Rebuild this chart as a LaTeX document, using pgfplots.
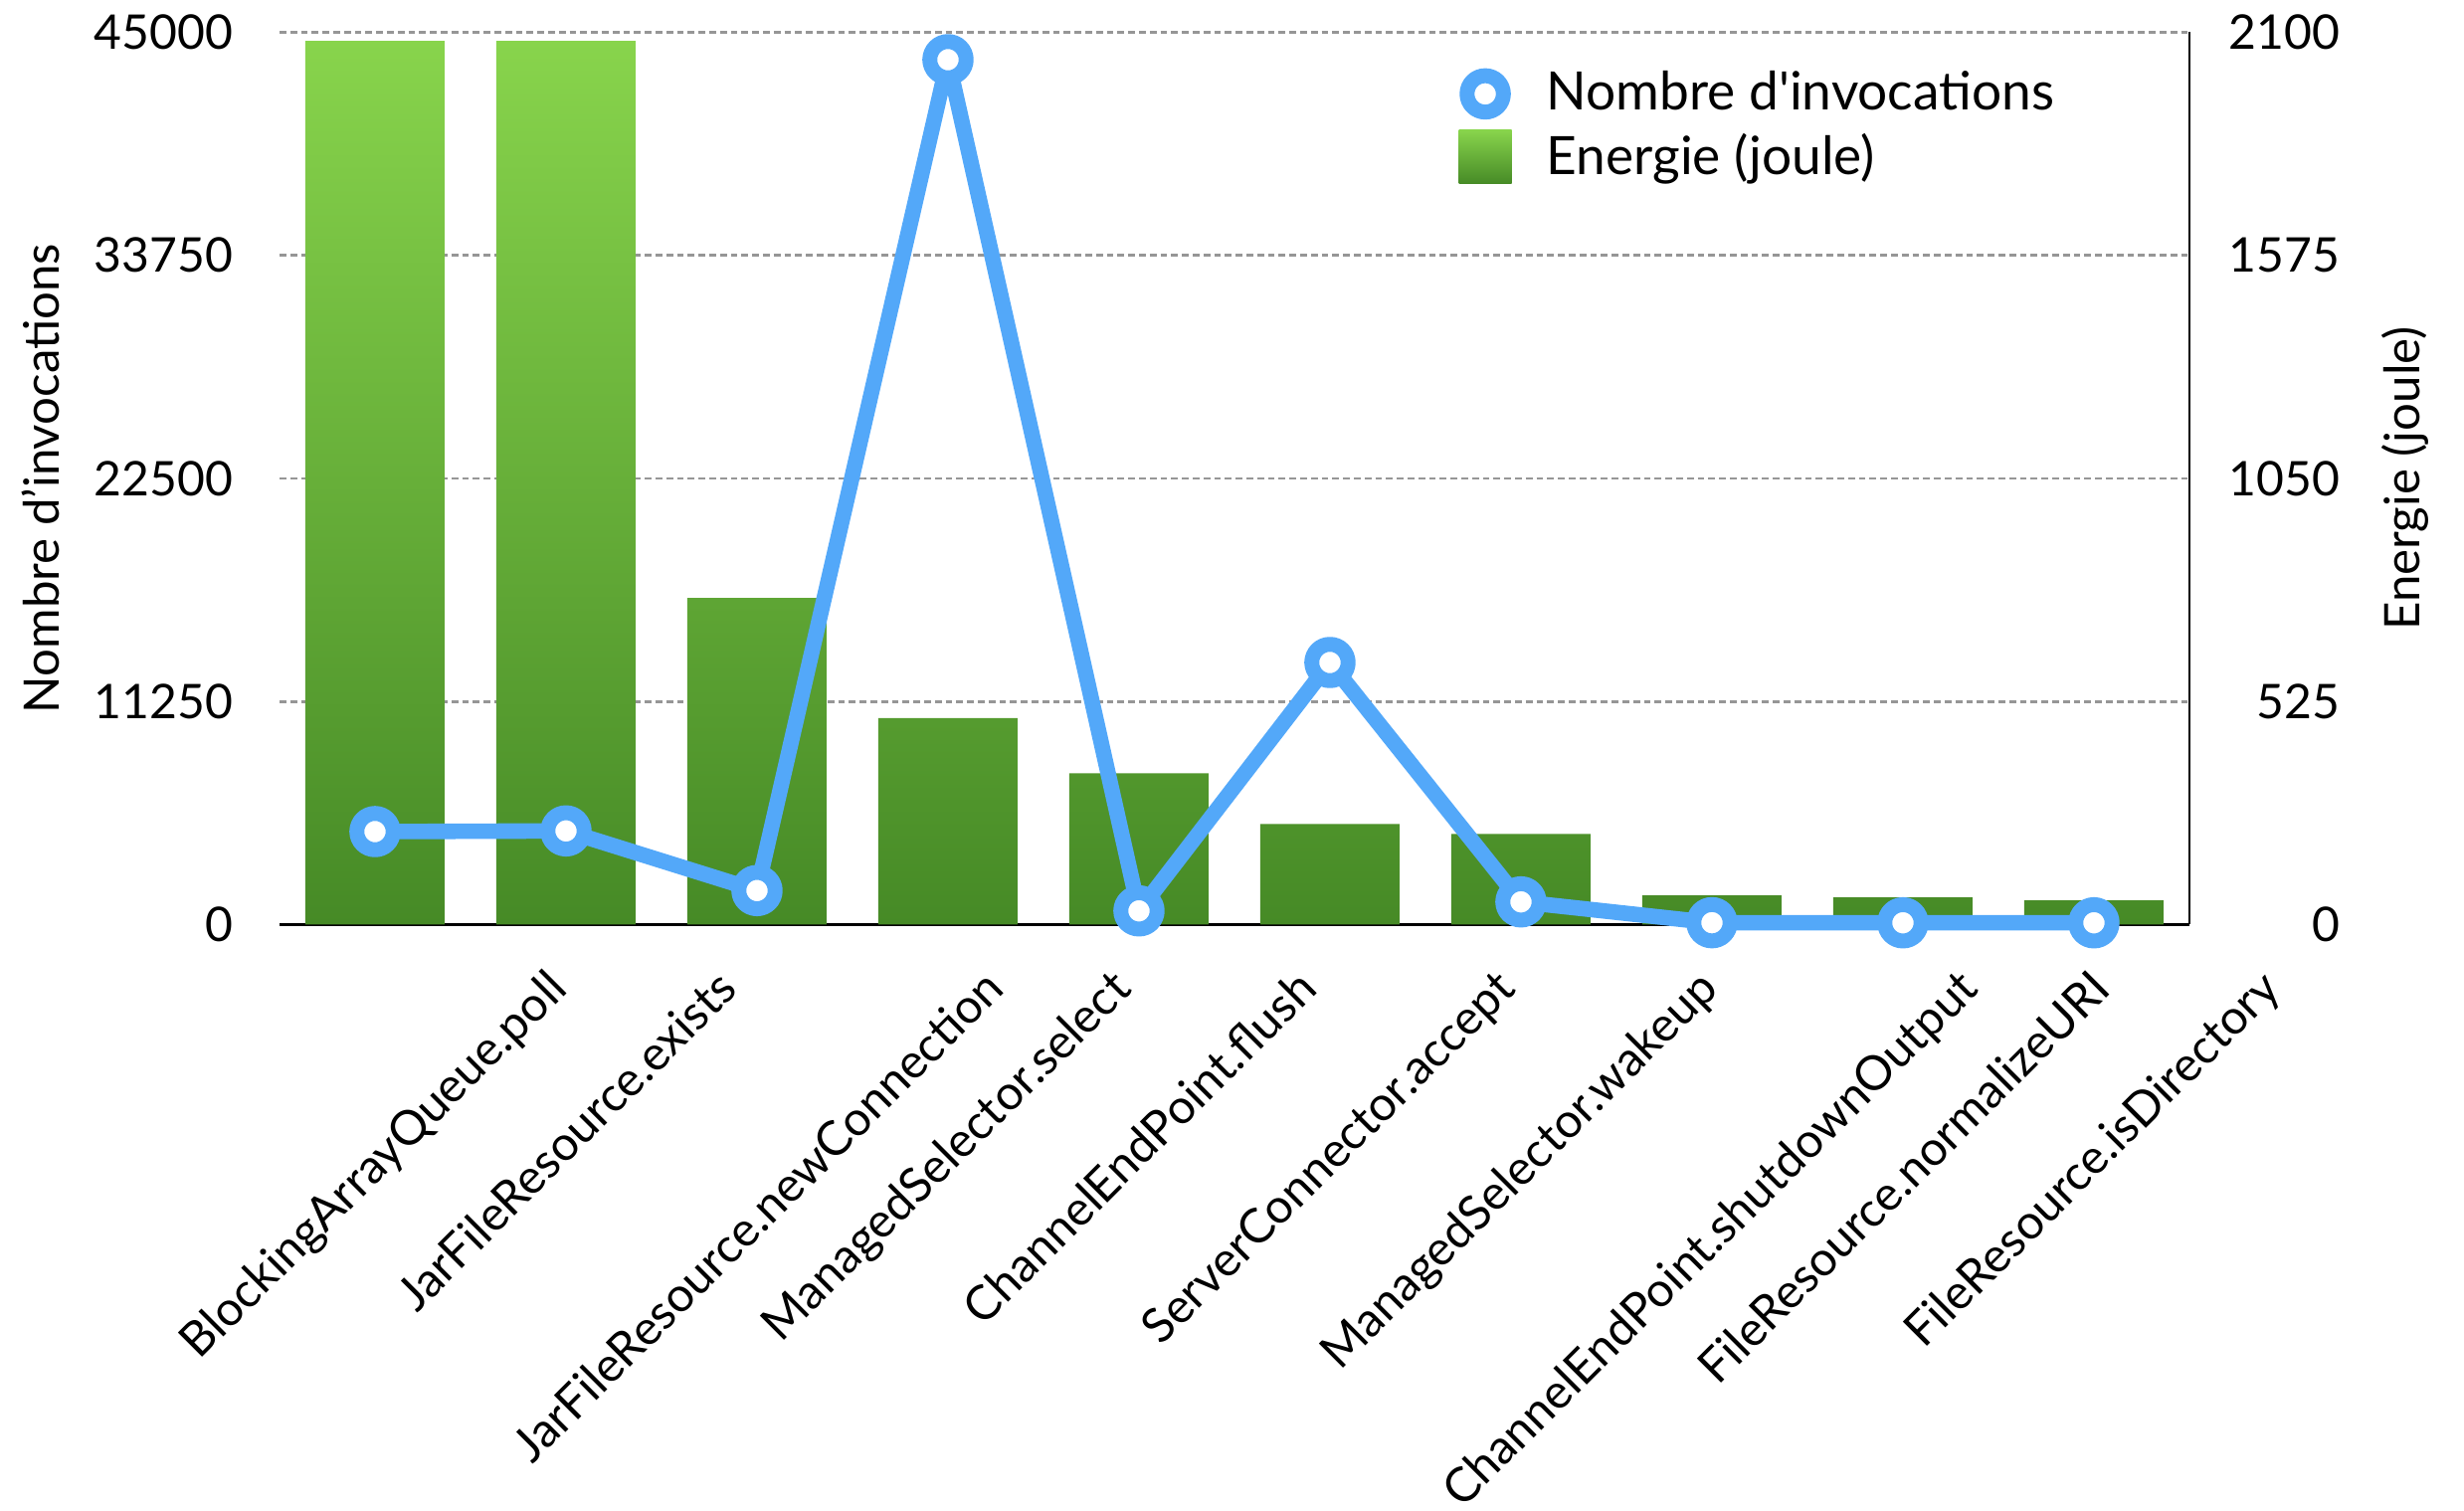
\documentclass[border=0pt]{standalone}
\usepackage{fontspec}
\setmainfont{Lato}
\usepackage{graphicx}
\usepackage{pgfplots}
\pgfplotsset{compat=1.18}

\definecolor{lblue}{RGB}{83,168,249}
\definecolor{gtop}{RGB}{136,212,76}
\definecolor{gmid}{RGB}{93,180,49}
\definecolor{gbot}{RGB}{70,138,38}
\definecolor{gridgray}{RGB}{150,150,150}

\pgfplotsset{
  common/.style={
    scale only axis, width=480pt, height=224.25pt,
    xmin=-0.5, xmax=9.5,
    ymin=0,
    major tick length=0pt,
    scaled y ticks=false,
    /pgf/number format/1000 sep={},
    /pgf/number format/assume math mode=true,
    tick label style={font=\fontsize{12}{14}\selectfont},
    clip=false,
  },
  ringlegend/.style={legend image code/.code={\draw[mark repeat=2, mark phase=2, ##1] plot coordinates {(0.6pt,0pt) (6.625pt,0pt) (12.65pt,0pt)};}},
  barlegend/.style={legend image code/.code={\path[draw=none, top color=gtop, middle color=gmid, bottom color=gbot] (0pt,-6.75pt) rectangle (13.25pt,6.75pt);}},
}

\begin{document}
\begin{tikzpicture}
\begin{axis}[common,
  axis x line*=bottom, axis y line*=right,
  axis line style={black, line width=0.7pt},
  ymax=2100, ytick={0,525,1050,1575,2100},
  ymajorgrids,
  grid style={gridgray, line width=0.65pt, dash pattern=on 1.7pt off 1pt},
  xtick={0,...,9},
  xticklabels={
    {\rotatebox{45}{BlockingArrayQueue.poll}},
    {\rotatebox{45}{JarFileResource.exists}},
    {\rotatebox{45}{JarFileResource.newConnection}},
    {\rotatebox{45}{ManagedSelector.select}},
    {\rotatebox{45}{ChannelEndPoint.flush}},
    {\rotatebox{45}{ServerConnector.accept}},
    {\rotatebox{45}{ManagedSelector.wakeup}},
    {\rotatebox{45}{ChannelEndPoint.shutdownOutput}},
    {\rotatebox{45}{FileResource.normalizeURI}},
    {\rotatebox{45}{FileResource.isDirectory}}},
  xticklabel style={anchor=north, inner sep=0pt, yshift=-10.4pt, font=\fontsize{12}{14}\selectfont},
  yticklabel style={anchor=east, inner sep=0pt, xshift=38pt},
  every axis y label/.style={at={(axis description cs:1.1131,0.5)}, anchor=center, rotate=90, font=\fontsize{12.3}{14}\selectfont},
  ylabel={Energie (joule)},
]
\addplot[ybar, bar width=35pt, draw=none, top color=gtop, middle color=gmid, bottom color=gbot]
  coordinates {(0,2080) (1,2080) (2,769) (3,486) (4,356) (5,237) (6,213.5) (7,69) (8,64) (9,57)};
\coordinate (O) at (rel axis cs:0,0);
\end{axis}

\begin{axis}[common,
  hide x axis,
  axis y line*=left,
  axis line style={draw=none},
  ymax=45000, ytick={0,11250,22500,33750,45000},
  yticklabel style={anchor=east, inner sep=0pt, xshift=-11.5pt},
  every axis y label/.style={at={(axis description cs:-0.1253,0.5)}, anchor=center, rotate=90, font=\fontsize{12.3}{14}\selectfont},
  ylabel={Nombre d’invocations},
  legend style={at={(axis description cs:0.608,0.966)}, anchor=north west, draw=none, fill=none,
    font=\fontsize{13.3}{16}\selectfont, row sep=3.5pt, column sep=7.5pt, nodes={inner sep=0pt}},
  legend cell align=left,
]
\addplot[lblue, line width=3.9pt, line join=round, mark=*, mark size=4.57pt,
  mark options={fill=white, draw=lblue, line width=3.75pt}, ringlegend]
  coordinates {(0,4691) (1,4725) (2,1716) (3,43620) (4,692) (5,13219) (6,1145) (7,95) (8,90) (9,90)};
\addlegendentry{Nombre d\textquotesingle invocations}
\addlegendimage{barlegend}
\addlegendentry{Energie (joule)}
\end{axis}

\pgfresetboundingbox
\path (O) ++(-70.25pt,-147.375pt) rectangle ++(619.25pt,379.75pt);
\end{tikzpicture}
\end{document}
